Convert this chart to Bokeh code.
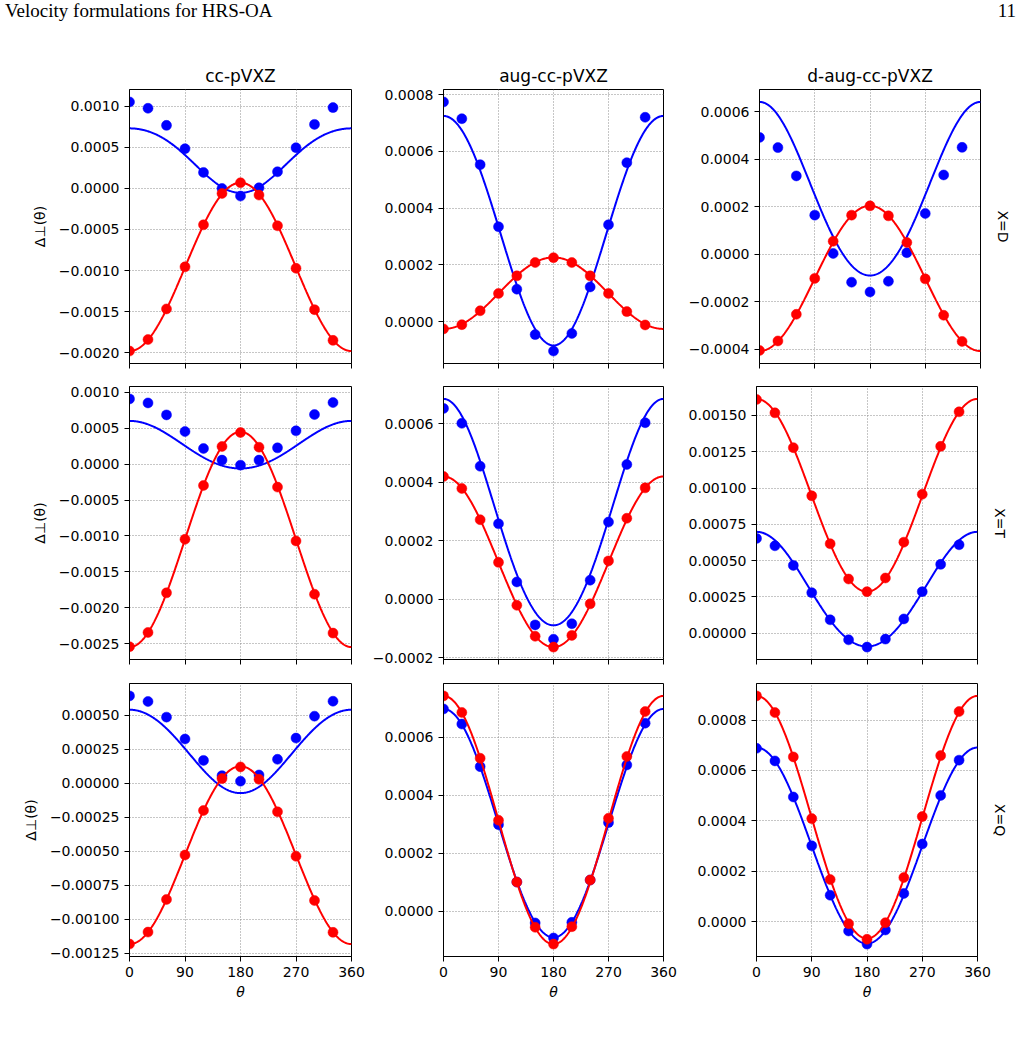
import math
import numpy as np
from bokeh.plotting import figure
from bokeh.layouts import column, row
from bokeh.models import FixedTicker, CustomJSTickFormatter, LinearAxis, Div
from bokeh.embed import file_html
from bokeh.resources import INLINE

# ---------------------------------------------------------------- data
theta_deg = [0, 30, 60, 90, 120, 150, 180, 210, 240, 270, 300, 330]
basis_sets = ["cc-pVXZ", "aug-cc-pVXZ", "d-aug-cc-pVXZ"]
cardinals = ["D", "T", "Q"]
x_ticks = [0, 90, 180, 270, 360]

# computed Delta_perp(theta) values, blue and red series, per cardinal / basis
d_cc_blue = [0.001053, 0.000976, 0.000768, 0.000484, 0.000195, 0.000000,
             -0.000093, 0.000008, 0.000203, 0.000496, 0.000780, 0.000984]
d_cc_red = [-0.001980, -0.001840, -0.001467, -0.000955, -0.000443, -0.000061,
            0.000069, -0.000081, -0.000455, -0.000972, -0.001476, -0.001850]
d_aug_blue = [0.000774, 0.000715, 0.000553, 0.000334, 0.000114, -0.000046,
              -0.000104, -0.000042, 0.000122, 0.000341, 0.000560, 0.000720]
d_aug_red = [-0.000026, -0.000011, 0.000038, 0.000099, 0.000161, 0.000208,
             0.000225, 0.000208, 0.000161, 0.000099, 0.000035, -0.000012]
d_daug_blue = [0.000492, 0.000449, 0.000330, 0.000165, 0.000004, -0.000117,
               -0.000158, -0.000113, 0.000007, 0.000172, 0.000334, 0.000450]
d_daug_red = [-0.000404, -0.000364, -0.000252, -0.000101, 0.000055, 0.000165,
              0.000204, 0.000162, 0.000050, -0.000103, -0.000256, -0.000366]

t_cc_blue = [0.000909, 0.000853, 0.000686, 0.000454, 0.000218, 0.000056,
             -0.000014, 0.000056, 0.000227, 0.000464, 0.000691, 0.000858]
t_cc_red = [-0.002545, -0.002346, -0.001794, -0.001048, -0.000297, 0.000246,
            0.000440, 0.000236, -0.000320, -0.001071, -0.001813, -0.002355]
t_aug_blue = [0.000653, 0.000602, 0.000455, 0.000258, 0.000059, -0.000088,
              -0.000137, -0.000084, 0.000065, 0.000264, 0.000461, 0.000604]
t_aug_red = [0.000420, 0.000379, 0.000272, 0.000126, -0.000021, -0.000127,
             -0.000164, -0.000124, -0.000016, 0.000131, 0.000277, 0.000381]
t_daug_blue = [0.000653, 0.000602, 0.000467, 0.000279, 0.000092, -0.000046,
               -0.000096, -0.000041, 0.000098, 0.000286, 0.000474, 0.000609]
t_daug_red = [0.001610, 0.001518, 0.001278, 0.000946, 0.000616, 0.000373,
              0.000286, 0.000380, 0.000627, 0.000957, 0.001287, 0.001525]

q_cc_blue = [0.000642, 0.000601, 0.000486, 0.000325, 0.000168, 0.000056,
             0.000015, 0.000061, 0.000176, 0.000332, 0.000493, 0.000603]
q_cc_red = [-0.001182, -0.001094, -0.000854, -0.000527, -0.000200, 0.000034,
            0.000120, 0.000029, -0.000210, -0.000537, -0.000862, -0.001096]
q_aug_blue = [0.000697, 0.000645, 0.000498, 0.000298, 0.000100, -0.000041,
              -0.000093, -0.000039, 0.000107, 0.000305, 0.000504, 0.000648]
q_aug_red = [0.000742, 0.000685, 0.000527, 0.000313, 0.000100, -0.000056,
             -0.000114, -0.000054, 0.000107, 0.000320, 0.000533, 0.000688]
q_daug_blue = [0.000688, 0.000638, 0.000495, 0.000301, 0.000105, -0.000037,
               -0.000089, -0.000033, 0.000112, 0.000308, 0.000501, 0.000641]
q_daug_red = [0.000896, 0.000830, 0.000654, 0.000409, 0.000167, -0.000008,
              -0.000070, -0.000004, 0.000175, 0.000417, 0.000659, 0.000834]

# fitted model coefficients: Delta(theta) = a0 + a1*cos(theta) + a2*cos(2*theta)
d_cc_blue_fit = [0.000373, 0.0003925, -0.000034]
d_cc_red_fit = [-0.0009575, -0.001025, 0.0000025]
d_aug_blue_fit = [0.000327, 0.0004045, -0.0000068]
d_aug_red_fit = [0.0000995, -0.000126, 0.0000005]
d_daug_blue_fit = [0.000263, 0.000365, 0.000013]
d_daug_red_fit = [-0.000101, -0.0003055, 0.0]

t_cc_blue_fit = [0.000263, 0.0003315, 0.000008]
t_cc_red_fit = [-0.001049, -0.0015, -0.000001]
t_aug_blue_fit = [0.000285, 0.0003875, 0.000013]
t_aug_red_fit = [0.000127, 0.000292, 0.000001]
t_daug_blue_fit = [0.0002925, 0.000395, 0.0000105]
t_daug_red_fit = [0.000948, 0.000664, 0.000002]

q_cc_blue_fit = [0.000244, 0.0003065, -0.000010]
q_cc_red_fit = [-0.000528, -0.0006535, -0.0000008]
q_aug_blue_fit = [0.0003015, 0.000394, 0.0000015]
q_aug_red_fit = [0.0003135, 0.000428, 0.0000005]
q_daug_blue_fit = [0.000301, 0.000389, 0.000001]
q_daug_red_fit = [0.000413, 0.0004815, 0.0000015]

# y tick spacing and label decimals for each panel
tick_steps = [[0.0005, 0.0002, 0.0002],
              [0.0005, 0.0002, 0.00025],
              [0.00025, 0.0002, 0.0002]]
tick_decimals = [[4, 4, 4],
                 [4, 4, 5],
                 [5, 4, 4]]

panels = [
    [(d_cc_blue, d_cc_red, d_cc_blue_fit, d_cc_red_fit),
     (d_aug_blue, d_aug_red, d_aug_blue_fit, d_aug_red_fit),
     (d_daug_blue, d_daug_red, d_daug_blue_fit, d_daug_red_fit)],
    [(t_cc_blue, t_cc_red, t_cc_blue_fit, t_cc_red_fit),
     (t_aug_blue, t_aug_red, t_aug_blue_fit, t_aug_red_fit),
     (t_daug_blue, t_daug_red, t_daug_blue_fit, t_daug_red_fit)],
    [(q_cc_blue, q_cc_red, q_cc_blue_fit, q_cc_red_fit),
     (q_aug_blue, q_aug_red, q_aug_blue_fit, q_aug_red_fit),
     (q_daug_blue, q_daug_red, q_daug_blue_fit, q_daug_red_fit)],
]

# ---------------------------------------------------------------- layout
FONT = "DejaVu Sans"
BLUE = "#0000ff"
RED = "#ff0000"

col_frame_w = [222, 220, 221]
col_border_l = [129, 74, 71]
col_border_r = [18, 22, 49]
row_frame_h = [274, 273, 273]
row_border_t = [49, 11, 12]
row_border_b = [12, 12, 50]

theta_fine = np.linspace(0.0, 360.0, 361)


def fit_curve(coef):
    t = np.radians(theta_fine)
    return coef[0] + coef[1] * np.cos(t) + coef[2] * np.cos(2.0 * t)


def y_formatter(nd):
    return CustomJSTickFormatter(args=dict(nd=nd), code="""
        const v = Math.abs(tick) < 1e-12 ? 0 : tick;
        const s = Math.abs(v).toFixed(nd);
        return v < 0 ? "\\u2212" + s : s;
    """)


def make_panel(r, c):
    blue, red, blue_fit, red_fit = panels[r][c]
    blue_curve = fit_curve(blue_fit)
    red_curve = fit_curve(red_fit)
    allv = np.concatenate([blue, red, blue_curve, red_curve])
    lo, hi = float(allv.min()), float(allv.max())
    pad = 0.05 * (hi - lo)
    y0, y1 = lo - pad, hi + pad

    p = figure(frame_width=col_frame_w[c], frame_height=row_frame_h[r],
               min_border_left=col_border_l[c], min_border_right=col_border_r[c],
               min_border_top=row_border_t[r], min_border_bottom=row_border_b[r],
               x_range=(0, 360), y_range=(y0, y1),
               output_backend="svg", toolbar_location=None,
               background_fill_color="white", border_fill_color="white")

    p.outline_line_color = "black"
    p.outline_line_width = 1
    p.outline_line_alpha = 1.0

    step = tick_steps[r][c]
    k0 = math.ceil(y0 / step - 1e-9)
    k1 = math.floor(y1 / step + 1e-9)
    yt = [round(k * step, 10) for k in range(k0, k1 + 1)]
    yticker = FixedTicker(ticks=yt)
    xticker = FixedTicker(ticks=x_ticks)

    p.yaxis.ticker = yticker
    p.xaxis.ticker = xticker
    p.ygrid.ticker = yticker
    p.xgrid.ticker = xticker
    p.yaxis.formatter = y_formatter(tick_decimals[r][c])

    for g in (p.xgrid, p.ygrid):
        g.grid_line_color = "#8c8c8c"
        g.grid_line_width = 1
        g.grid_line_dash = "1 2"

    for ax in (p.xaxis, p.yaxis):
        ax.axis_line_color = "black"
        ax.axis_line_width = 1
        ax.major_tick_line_color = "black"
        ax.major_tick_line_width = 1
        ax.major_tick_out = 5
        ax.major_tick_in = 0
        ax.minor_tick_line_color = None
        ax.major_label_text_font = FONT
        ax.major_label_text_font_size = "14px"
        ax.major_label_text_color = "black"
        ax.major_label_standoff = 5
        ax.axis_label_text_font = FONT
        ax.axis_label_text_font_size = "14px"
        ax.axis_label_text_color = "black"
        ax.axis_label_text_font_style = "normal"

    if r < 2:
        # shared theta axis: tick marks only, no tick labels
        p.xaxis.major_label_text_color = None
        p.xaxis.major_label_text_alpha = 0
        p.xaxis.major_label_text_font_size = "0px"
        p.xaxis.major_label_standoff = 0
    else:
        p.xaxis.axis_label = "θ"
        p.xaxis.axis_label_text_font_style = "italic"
        p.xaxis.axis_label_standoff = 4

    if c == 0:
        p.yaxis.axis_label = "Δ⊥(θ)"
        p.yaxis.axis_label_standoff = 8

    if r == 0:
        p.title.text = basis_sets[c]
        p.title.align = "center"
        p.title.text_font = FONT
        p.title.text_font_size = "17px"
        p.title.text_font_style = "normal"
        p.title.text_color = "black"
        p.title.standoff = 7

    if c == 2:
        side = LinearAxis(ticker=FixedTicker(ticks=[]), axis_label="X=" + cardinals[r])
        side.axis_line_color = None
        side.major_tick_line_color = None
        side.minor_tick_line_color = None
        side.major_label_text_color = None
        side.major_label_text_font_size = "0px"
        side.axis_label_text_font = FONT
        side.axis_label_text_font_size = "14px"
        side.axis_label_text_color = "black"
        side.axis_label_text_font_style = "normal"
        side.axis_label_standoff = 14
        p.add_layout(side, "right")

    p.line(theta_fine, blue_curve, line_color=BLUE, line_width=2)
    p.scatter(theta_deg, blue, size=10, marker="circle",
              fill_color=BLUE, line_color=BLUE, line_width=0.5)
    p.line(theta_fine, red_curve, line_color=RED, line_width=2)
    p.scatter(theta_deg, red, size=10, marker="circle",
              fill_color=RED, line_color=RED, line_width=0.5)
    return p


header = Div(
    text=("<div style='display:flex;justify-content:space-between;"
          "width:1016px;padding-left:5px;font-family:\"Liberation Serif\";"
          "font-size:19px;color:black;line-height:22px;'>"
          "<span>Velocity formulations for HRS-OA</span><span>11</span></div>"),
    width=1026, height=40, margin=0)

rows = []
for r in range(3):
    rows.append(row(*[make_panel(r, c) for c in range(3)], spacing=0))

layout = column(header, *rows, spacing=0)

with open("out.html", "w") as fh:
    fh.write(file_html(layout, INLINE))
